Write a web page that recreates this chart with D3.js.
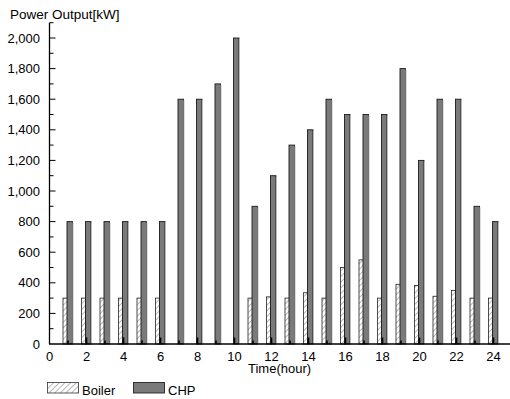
<!DOCTYPE html>
<html><head><meta charset="utf-8">
<script src="https://cdn.jsdelivr.net/npm/d3@7"></script>
<style>body{margin:0;background:#fff}svg{display:block}text{font-family:"Liberation Sans",Arial,sans-serif;fill:#000}</style>
</head><body><svg id="c" width="510" height="399"></svg>
<script>
const hours = d3.range(1, 25);
const boiler = [300,300,300,300,300,300,0,0,0,0,300,308,300,335,300,500,550,300,390,383,312,350,300,300];
const chp = [800,800,800,800,800,800,1600,1600,1700,2000,900,1100,1300,1400,1600,1500,1500,1500,1800,1200,1600,1600,900,800];
const xTicks = [0,2,4,6,8,10,12,14,16,18,20,22,24];
const yTicks = [0,200,400,600,800,1000,1200,1400,1600,1800,2000];

const svg = d3.select("#c");
const x = d3.scaleLinear().domain([0, 25]).range([49.5, 512]);
const y = d3.scaleLinear().domain([0, 2100]).range([344, 22.7]);

const defs = svg.append("defs");
const pat = defs.append("pattern").attr("id","hatch").attr("patternUnits","userSpaceOnUse")
  .attr("width",4).attr("height",4).attr("patternTransform","rotate(45)");
pat.append("rect").attr("width",4).attr("height",4).attr("fill","#fff");
pat.append("line").attr("x1",0).attr("y1",0).attr("x2",0).attr("y2",4).attr("stroke","#888").attr("stroke-width",1.2);

// Boiler bars
svg.append("g").selectAll("rect").data(hours.filter((h,i)=>boiler[i]>0)).join("rect")
  .attr("x", h => x(h) - 5)
  .attr("y", h => y(boiler[h-1]))
  .attr("width", 4.5)
  .attr("height", h => y(0) - y(boiler[h-1]))
  .attr("fill", "url(#hatch)")
  .attr("stroke", "#222").attr("stroke-width", 0.8);

// CHP bars
const g2 = svg.append("g");
g2.selectAll("rect.c").data(hours).join("rect").attr("class","c")
  .attr("x", h => x(h) - 1)
  .attr("y", h => y(chp[h-1]))
  .attr("width", 5.5)
  .attr("height", h => y(0) - y(chp[h-1]))
  .attr("fill", "#7a7a7a")
  .attr("stroke", "#1a1a1a").attr("stroke-width", 0.9);
g2.selectAll("rect.s").data(hours).join("rect").attr("class","s")
  .attr("x", h => x(h) + 4.5)
  .attr("y", h => y(chp[h-1]) + 1)
  .attr("width", 1)
  .attr("height", h => y(0) - y(chp[h-1]) - 1)
  .attr("fill", "#bbb");

// Y axis
const yAxisG = svg.append("g").attr("transform","translate(49.5,0)");
yAxisG.append("line").attr("y1", y(2100)).attr("y2", y(0)).attr("stroke","#000").attr("stroke-width",1.3);
yAxisG.selectAll("line.t").data(d3.range(100, 2101, 100)).join("line").attr("class","t")
  .attr("x1",0).attr("x2", d => d % 200 === 0 ? 6 : 4)
  .attr("y1", d => y(d)).attr("y2", d => y(d)).attr("stroke","#000").attr("stroke-width",1);
svg.append("g").selectAll("text").data(yTicks).join("text")
  .attr("x", 40).attr("y", d => y(d) + 4.5).attr("text-anchor","end")
  .attr("font-size", 13).text(d3.format(","));

// X axis
const xAxisG = svg.append("g");
xAxisG.append("line").attr("x1", 49).attr("x2", 510).attr("y1", 344).attr("y2", 344).attr("stroke","#000").attr("stroke-width",1.5);
xAxisG.selectAll("line.t").data(hours).join("line").attr("class","t")
  .attr("x1", d => x(d)).attr("x2", d => x(d))
  .attr("y1", 344).attr("y2", d => d % 2 === 0 ? 337.5 : 340.5)
  .attr("stroke","#000").attr("stroke-width",1.6);
svg.append("g").selectAll("text").data(xTicks).join("text")
  .attr("x", d => x(d)).attr("y", 360.5).attr("text-anchor","middle")
  .attr("font-size", 13).text(d => d);

svg.append("text").attr("x", 248).attr("y", 372.5).attr("font-size", 13).text("Time(hour)");
svg.append("text").attr("x", 10).attr("y", 19).attr("font-size", 13.5).text("Power Output[kW]");

// Legend
const leg = svg.append("g");
leg.append("rect").attr("x",47.5).attr("y",382.5).attr("width",31).attr("height",10.5)
  .attr("fill","url(#hatch)").attr("stroke","#333").attr("stroke-width",0.8);
leg.append("text").attr("x",82).attr("y",394.5).attr("font-size",13).text("Boiler");
leg.append("rect").attr("x",133.5).attr("y",382.5).attr("width",31).attr("height",10.5)
  .attr("fill","#7a7a7a").attr("stroke","#222").attr("stroke-width",0.9);
leg.append("text").attr("x",168).attr("y",394.5).attr("font-size",13).text("CHP");
</script></body></html>
